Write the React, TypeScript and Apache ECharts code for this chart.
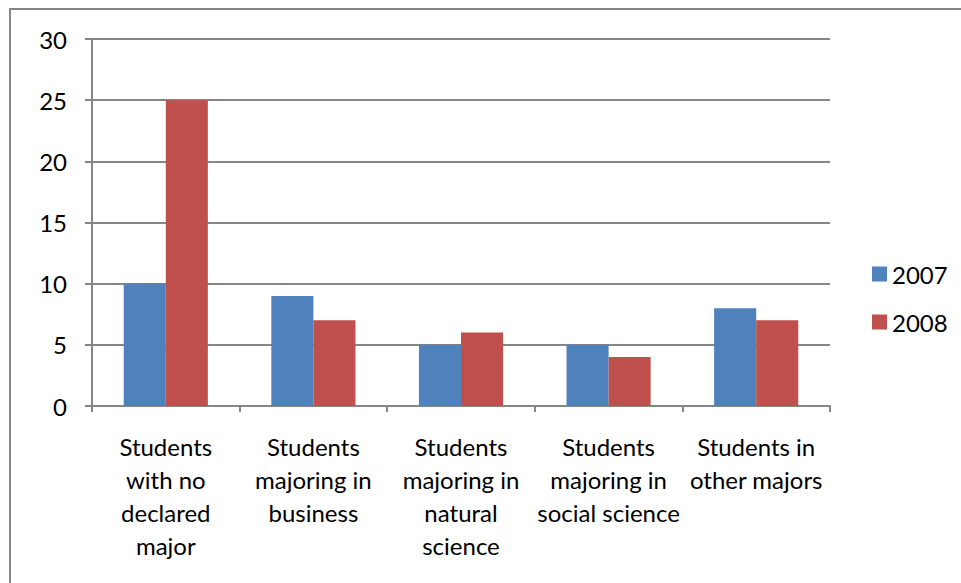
import React, { useEffect, useRef } from "react";
import * as echarts from "echarts";

const categories = [
  "Students\nwith no\ndeclared\nmajor",
  "Students\nmajoring in\nbusiness",
  "Students\nmajoring in\nnatural\nscience",
  "Students\nmajoring in\nsocial science",
  "Students in\nother majors",
];
const values2007 = [10, 9, 5, 5, 8];
const values2008 = [25, 7, 6, 4, 7];
const seriesNames = ["2007", "2008"];

const FONT = "Lato, 'Open Sans', sans-serif";
const GRAY = "#868686";
const FONT_SIZE = 24;

export default function App() {
  const ref = useRef<HTMLDivElement>(null);

  useEffect(() => {
    if (!ref.current) return;
    const chart = echarts.init(ref.current, undefined, { renderer: "svg" });
    chart.setOption({
      animation: false,
      backgroundColor: "#ffffff",
      textStyle: { fontFamily: FONT },
      graphic: [
        {
          type: "rect",
          shape: { x: 10, y: 9, width: 1000, height: 1000 },
          style: { fill: "none", stroke: GRAY, lineWidth: 2 },
          silent: true,
        },
      ],
      grid: { left: 92, top: 39, width: 738, height: 367, containLabel: false },
      legend: {
        orient: "vertical",
        left: 872,
        top: 262,
        padding: 0,
        itemWidth: 15,
        itemHeight: 15,
        itemGap: 24,
        icon: "rect",
        data: seriesNames,
        textStyle: { fontFamily: FONT, fontSize: FONT_SIZE, color: "#000", lineHeight: 20 },
      },
      xAxis: {
        type: "category",
        data: categories,
        axisLine: { show: true, lineStyle: { color: GRAY, width: 2 } },
        axisTick: { show: true, length: 6, lineStyle: { color: GRAY, width: 2 } },
        axisLabel: {
          interval: 0,
          margin: 24,
          fontFamily: FONT,
          fontSize: FONT_SIZE,
          lineHeight: 33,
          color: "#000",
          align: "center",
        },
      },
      yAxis: {
        type: "value",
        min: 0,
        max: 30,
        interval: 5,
        axisLine: { show: true, lineStyle: { color: GRAY, width: 2 } },
        axisTick: { show: true, length: 7, lineStyle: { color: GRAY, width: 2 } },
        splitLine: { show: true, lineStyle: { color: GRAY, width: 2 } },
        axisLabel: { margin: 25, fontFamily: FONT, fontSize: FONT_SIZE, color: "#000" },
      },
      series: [
        {
          name: seriesNames[0],
          type: "bar",
          data: values2007,
          itemStyle: { color: "#4F81BD" },
          barGap: "0%",
          barCategoryGap: "43%",
        },
        {
          name: seriesNames[1],
          type: "bar",
          data: values2008,
          itemStyle: { color: "#C0504D" },
          barGap: "0%",
          barCategoryGap: "43%",
        },
      ],
    });
    return () => chart.dispose();
  }, []);

  return (
    <div
      ref={ref}
      style={{ position: "fixed", left: 0, top: 0, width: 961, height: 583, background: "#fff" }}
    />
  );
}
